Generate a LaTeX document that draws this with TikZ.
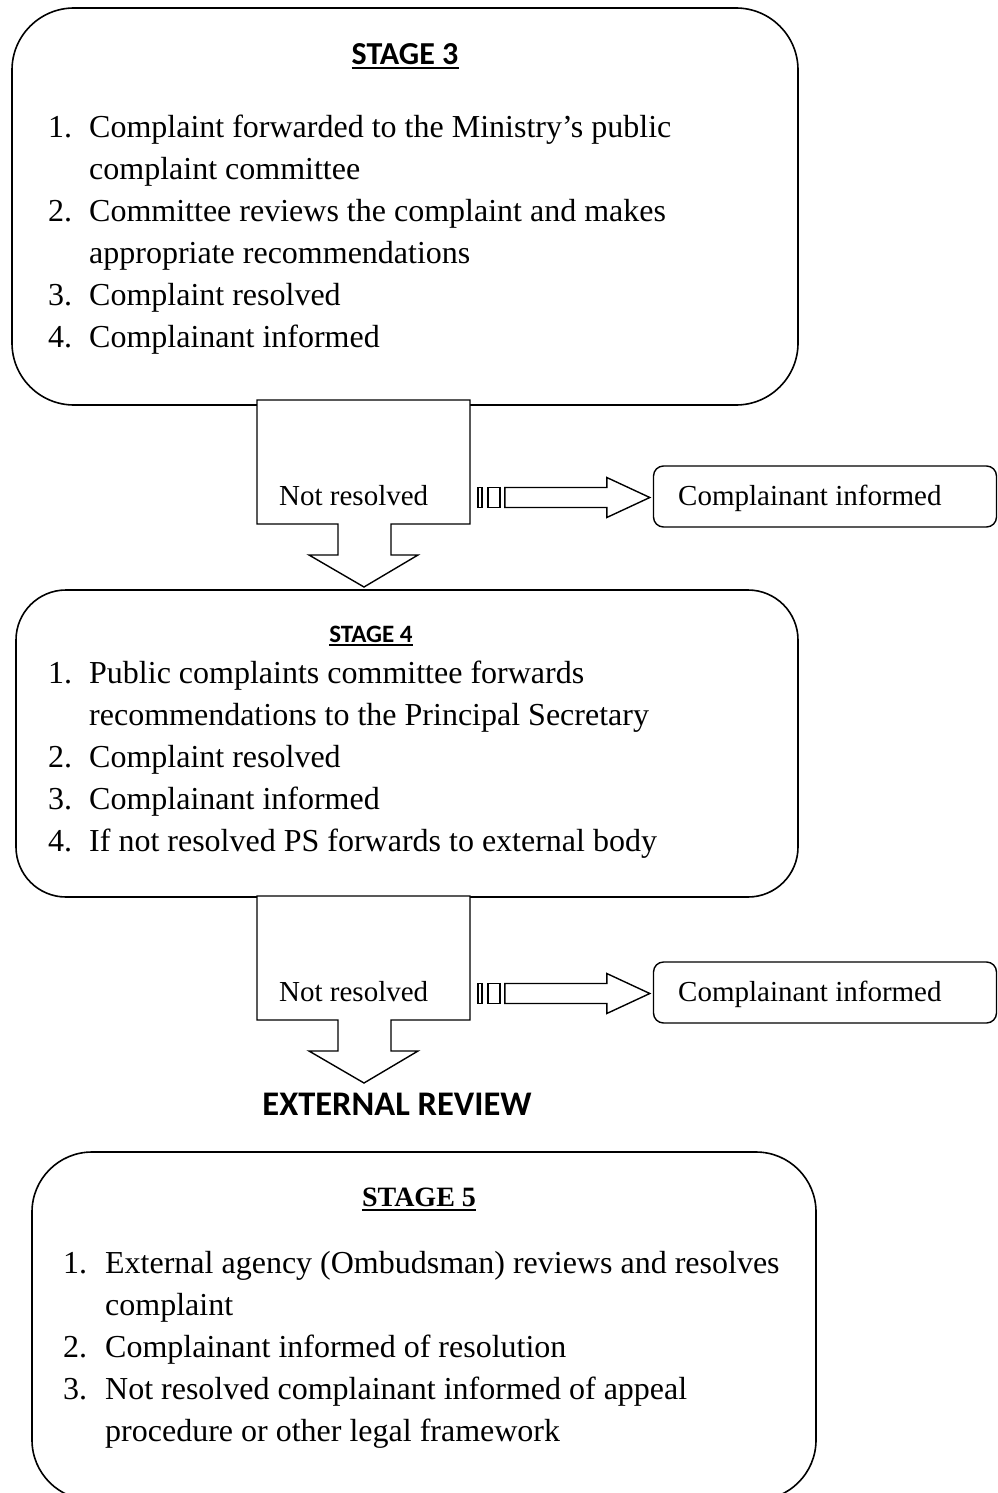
\documentclass[tikz,border=0pt]{standalone}
\usepackage{fontspec}
\setmainfont{Liberation Serif}
\newfontfamily\headfont{Carlito}
\begin{document}
\begin{tikzpicture}[x=1pt,y=-1pt,
  stagebox/.style={draw, line width=1.6pt, inner sep=0pt},
  smallbox/.style={draw, line width=1.4pt, inner sep=0pt, rounded corners=10pt},
  blockarrow/.style={draw, line width=1.4pt, fill=white, line join=miter},
  listtext/.style={anchor=base west, inner sep=0pt, font=\fontsize{32}{42}\selectfont},
  smalltext/.style={anchor=base west, inner sep=0pt, font=\fontsize{29}{35}\selectfont},
  headtext/.style={anchor=base, inner sep=0pt},
  uline/.style={line width=2pt}
]
\useasboundingbox (0,0) rectangle (998,1493);

% ---------- Stage boxes ----------
\node[stagebox, rounded corners=62pt, minimum width=786pt, minimum height=397pt] (s3) at (405,206.5) {};
\node[stagebox, rounded corners=50pt, minimum width=782pt, minimum height=307pt] (s4) at (407,743.5) {};
\node[stagebox, rounded corners=60pt, minimum width=784pt, minimum height=348pt] (s5) at (424,1326) {};

% ---------- Headings ----------
\node[headtext, font=\headfont\bfseries\fontsize{32}{38}\selectfont] (h3) at (405,65) {STAGE 3};
\draw[uline] ([yshift=-3pt]h3.base west) -- ([yshift=-3pt]h3.base east);
\node[headtext, font=\headfont\bfseries\fontsize{25}{30}\selectfont] (h4) at (371,642) {STAGE 4};
\draw[uline] ([yshift=-3pt]h4.base west) -- ([yshift=-3pt]h4.base east);
\node[headtext, font=\bfseries\fontsize{28}{34}\selectfont] (h5) at (419,1206) {STAGE 5};
\draw[uline] ([yshift=-4pt]h5.base west) -- ([yshift=-4pt]h5.base east);
\node[headtext, font=\headfont\bfseries\fontsize{34.5}{40}\selectfont] (ext) at (397,1115) {EXTERNAL REVIEW};

% ---------- Lists ----------
\node[listtext] (l3) at (48,138) {\begin{tabular}[t]{@{}p{41pt}@{}l@{}}
1. & Complaint forwarded to the Ministry’s public\\
   & complaint committee\\
2. & Committee reviews the complaint and makes\\
   & appropriate recommendations\\
3. & Complaint resolved\\
4. & Complainant informed
\end{tabular}};

\node[listtext] (l4) at (48,683) {\begin{tabular}[t]{@{}p{41pt}@{}l@{}}
1. & Public complaints committee forwards\\
   & recommendations to the Principal Secretary\\
2. & Complaint resolved\\
3. & Complainant informed\\
4. & If not resolved PS forwards to external body
\end{tabular}};

\node[listtext] (l5) at (63,1273) {\begin{tabular}[t]{@{}p{42pt}@{}l@{}}
1. & External agency (Ombudsman) reviews and resolves\\
   & complaint\\
2. & Complainant informed of resolution\\
3. & Not resolved complainant informed of appeal\\
   & procedure or other legal framework
\end{tabular}};

% ---------- Down-arrow callouts ----------
\draw[blockarrow] (257,400) -- (470,400) -- (470,524) -- (391,524) -- (391,555) -- (418,555)
   -- (364,587) coordinate (tip1) -- (309,555) -- (338,555) -- (338,524) -- (257,524) -- cycle;
\node[smalltext] (nr1) at (279,505) {Not resolved};

\draw[blockarrow] (257,896) -- (470,896) -- (470,1020) -- (391,1020) -- (391,1051) -- (418,1051)
   -- (364,1083) coordinate (tip2) -- (309,1051) -- (338,1051) -- (338,1020) -- (257,1020) -- cycle;
\node[smalltext] (nr2) at (279,1001) {Not resolved};

% ---------- Side boxes ----------
\node[smallbox, minimum width=343pt, minimum height=61pt] (ci1) at (825,496.5) {};
\node[smalltext] (ct1) at (678,505) {Complainant informed};
\node[smallbox, minimum width=343pt, minimum height=61pt] (ci2) at (825,992.5) {};
\node[smalltext] (ct2) at (678,1001) {Complainant informed};

% ---------- Striped arrows ----------
\foreach \a/\yy in {ci1/497.5, ci2/993.5}{
  \coordinate (t) at ([xshift=-3pt]\a.west |- 0,\yy);
  \draw[blockarrow] (t) -- ++(-43,-20) -- ++(0,10) -- ++(-102,0) -- ++(0,20) -- ++(102,0) -- ++(0,10) -- cycle;
  \draw[blockarrow] (t) ++(-162,-10) rectangle ++(12,20);
  \draw[blockarrow] (t) ++(-172,-10) rectangle ++(4,20);
}
\end{tikzpicture}
\end{document}
